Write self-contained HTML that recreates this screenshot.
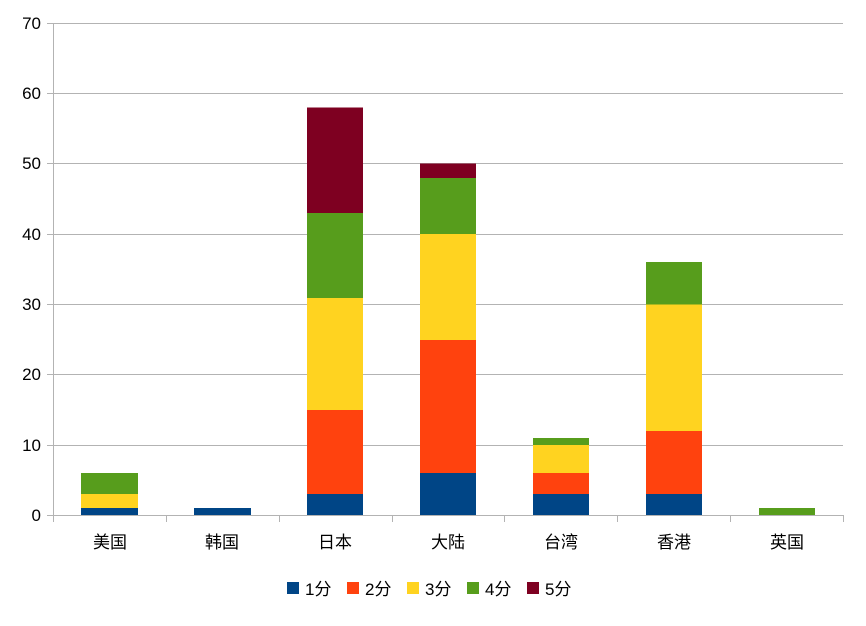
<!DOCTYPE html>
<html><head><meta charset="utf-8"><style>
body{margin:0;background:#fff;}
svg text{font-family:"Liberation Sans","Noto Sans CJK SC",sans-serif;}
</style></head><body>
<svg width="866" height="621" xmlns="http://www.w3.org/2000/svg">
<rect width="866" height="621" fill="#fff"/>
<g stroke="#b3b3b3" stroke-width="1">
<line x1="53" y1="23.5" x2="843" y2="23.5"/>
<line x1="53" y1="93.5" x2="843" y2="93.5"/>
<line x1="53" y1="163.5" x2="843" y2="163.5"/>
<line x1="53" y1="234.5" x2="843" y2="234.5"/>
<line x1="53" y1="304.5" x2="843" y2="304.5"/>
<line x1="53" y1="374.5" x2="843" y2="374.5"/>
<line x1="53" y1="445.5" x2="843" y2="445.5"/>
<line x1="53" y1="515.5" x2="843" y2="515.5"/>
<line x1="53.5" y1="23" x2="53.5" y2="522"/>
<line x1="47" y1="23.5" x2="53" y2="23.5"/><line x1="47" y1="93.5" x2="53" y2="93.5"/><line x1="47" y1="163.5" x2="53" y2="163.5"/><line x1="47" y1="234.5" x2="53" y2="234.5"/><line x1="47" y1="304.5" x2="53" y2="304.5"/><line x1="47" y1="374.5" x2="53" y2="374.5"/><line x1="47" y1="445.5" x2="53" y2="445.5"/><line x1="47" y1="515.5" x2="53" y2="515.5"/>
<line x1="166.5" y1="515" x2="166.5" y2="522"/><line x1="279.5" y1="515" x2="279.5" y2="522"/><line x1="392.5" y1="515" x2="392.5" y2="522"/><line x1="504.5" y1="515" x2="504.5" y2="522"/><line x1="617.5" y1="515" x2="617.5" y2="522"/><line x1="730.5" y1="515" x2="730.5" y2="522"/><line x1="843.5" y1="515" x2="843.5" y2="522"/>
</g>
<g font-size="17" fill="#000" text-anchor="end">
<text x="41" y="29">70</text><text x="41" y="99">60</text><text x="41" y="169">50</text><text x="41" y="240">40</text><text x="41" y="310">30</text><text x="41" y="380">20</text><text x="41" y="451">10</text><text x="41" y="521">0</text>
</g>
<g>
<!-- 美国 -->
<rect x="81" y="508" width="57" height="7" fill="#004586"/>
<rect x="81" y="494" width="57" height="14" fill="#ffd320"/>
<rect x="81" y="473" width="57" height="21" fill="#579d1c"/>
<!-- 韩国 -->
<rect x="194" y="508" width="57" height="7" fill="#004586"/>
<!-- 日本 -->
<rect x="307" y="494" width="56" height="21" fill="#004586"/>
<rect x="307" y="410" width="56" height="84" fill="#ff420e"/>
<rect x="307" y="298" width="56" height="112" fill="#ffd320"/>
<rect x="307" y="213" width="56" height="85" fill="#579d1c"/>
<rect x="307" y="107.5" width="56" height="105.5" fill="#7e0021"/>
<!-- 大陆 -->
<rect x="420" y="473" width="56" height="42" fill="#004586"/>
<rect x="420" y="340" width="56" height="133" fill="#ff420e"/>
<rect x="420" y="234" width="56" height="106" fill="#ffd320"/>
<rect x="420" y="178" width="56" height="56" fill="#579d1c"/>
<rect x="420" y="163.5" width="56" height="14.5" fill="#7e0021"/>
<!-- 台湾 -->
<rect x="533" y="494" width="56" height="21" fill="#004586"/>
<rect x="533" y="473" width="56" height="21" fill="#ff420e"/>
<rect x="533" y="445" width="56" height="28" fill="#ffd320"/>
<rect x="533" y="438" width="56" height="7" fill="#579d1c"/>
<!-- 香港 -->
<rect x="646" y="494" width="56" height="21" fill="#004586"/>
<rect x="646" y="431" width="56" height="63" fill="#ff420e"/>
<rect x="646" y="304.5" width="56" height="126.5" fill="#ffd320"/>
<rect x="646" y="262" width="56" height="42.5" fill="#579d1c"/>
<!-- 英国 -->
<rect x="759" y="508" width="56" height="7" fill="#579d1c"/>
</g>
<g font-size="17" fill="#000" text-anchor="middle">
<text x="110" y="548">美国</text><text x="222" y="548">韩国</text><text x="335" y="548">日本</text><text x="448" y="548">大陆</text><text x="561" y="548">台湾</text><text x="674" y="548">香港</text><text x="787" y="548">英国</text>
</g>
<g font-size="17" fill="#000">
<rect x="287" y="582" width="12" height="12" fill="#004586"/><text x="305" y="595">1分</text>
<rect x="347" y="582" width="12" height="12" fill="#ff420e"/><text x="365" y="595">2分</text>
<rect x="407" y="582" width="12" height="12" fill="#ffd320"/><text x="425" y="595">3分</text>
<rect x="467" y="582" width="12" height="12" fill="#579d1c"/><text x="485" y="595">4分</text>
<rect x="527" y="582" width="12" height="12" fill="#7e0021"/><text x="545" y="595">5分</text>
</g>
</svg>
</body></html>
